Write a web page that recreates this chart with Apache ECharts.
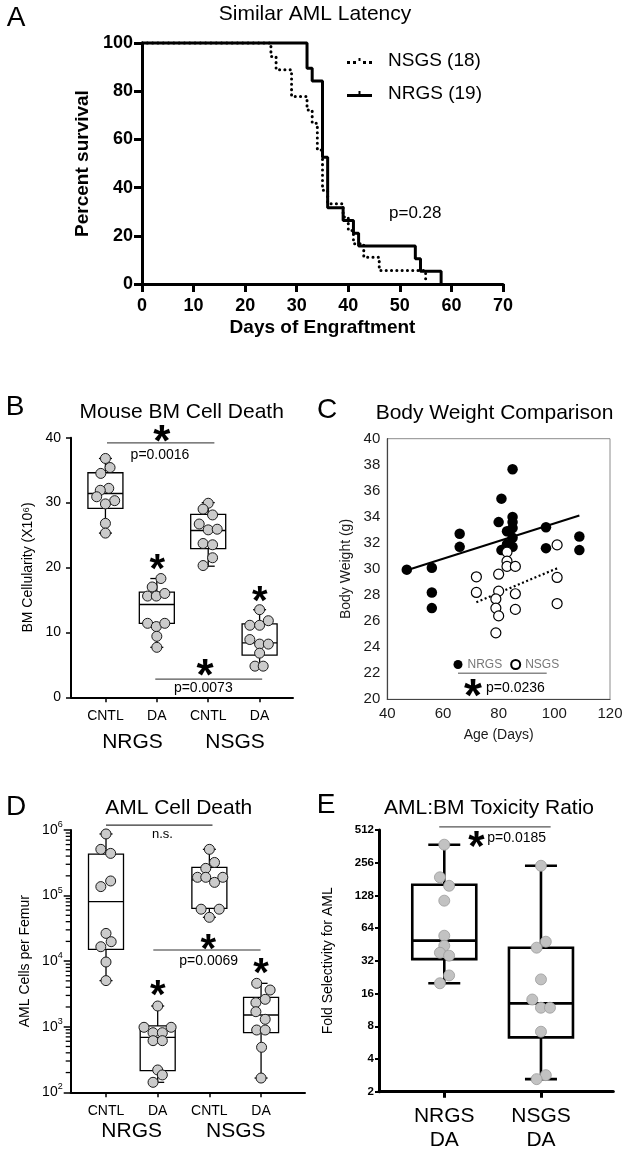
<!DOCTYPE html>
<html><head><meta charset="utf-8">
<script src="https://cdn.jsdelivr.net/npm/echarts@6/dist/echarts.min.js"></script>
<style>html,body{margin:0;padding:0;background:#fff}#c{width:625px;height:1152px}</style>
</head><body><div id="c"></div>
<script>
const FONT = '"Liberation Sans", Arial, sans-serif';

// ---------- Panel A : survival ----------
const nrgsDays = [0, 32, 33, 35, 36, 39, 41, 42, 53, 54, 58];
const nrgsSurvival = [100, 89.5, 84.2, 52.6, 31.6, 26.3, 21.1, 15.8, 10.5, 5.3, 0];
const nsgsDays = [0, 25, 26, 29, 32, 33, 34, 35, 36, 39, 40, 41, 43, 46, 55];
const nsgsSurvival = [100, 94.4, 88.9, 77.8, 72.2, 66.7, 55.6, 38.9, 33.3, 27.8, 22.2, 16.7, 11.1, 5.6, 0];

// ---------- Panel B : BM cellularity ----------
const bmGroups = ['CNTL', 'DA', 'CNTL', 'DA'];
const bmNrgsCntl = [36.8, 35.4, 34.5, 32.2, 31.9, 30.9, 30.3, 29.8, 26.8, 25.3];
const bmNrgsCntlJit = [0, 0.09, -0.09, 0.065, -0.1, -0.17, 0.18, 0, 0, 0];
const bmNrgsDa = [18.3, 17.0, 15.6, 15.6, 16.0, 11.4, 10.9, 11.4, 9.4, 7.7];
const bmNrgsDaJit = [0.08, -0.09, -0.18, -0.01, 0.155, -0.18, -0.01, 0.155, 0, 0];
const bmNsgsCntl = [29.9, 29.0, 28.1, 26.7, 25.8, 25.9, 23.7, 23.5, 21.5, 20.3];
const bmNsgsCntlJit = [0, -0.1, 0.085, -0.175, 0, 0.175, -0.1, 0.085, 0.085, -0.1];
const bmNsgsDa = [13.5, 11.1, 11.1, 11.8, 8.9, 8.2, 8.2, 6.8, 4.8, 4.8];
const bmNsgsDaJit = [0, -0.19, 0, 0.17, -0.19, 0, 0.17, 0, -0.09, 0.07];
// [min, q1, median, q3, max]
const bmBoxes = [[25.3, 29.1, 31.4, 34.6, 36.8], [7.7, 11.4, 14.3, 16.2, 18.3], [20.2, 22.9, 25.7, 28.2, 30.0], [4.8, 6.5, 8.4, 11.3, 13.5]];
const bmSigBars = [[1.03, 3.12, 39.2], [1.97, 4.05, 2.8]];

// ---------- Panel C : body weight ----------
const nrgsAge = [47, 56, 56, 56, 66, 66, 80, 81, 81, 83, 83, 85, 85, 85, 85, 85, 85, 97, 97, 109, 109];
const nrgsWeight = [29.95, 30.1, 28.2, 27.0, 32.7, 31.7, 33.6, 35.4, 31.45, 32.9, 31.9, 37.65, 34.0, 33.6, 33.15, 32.4, 31.7, 33.2, 31.6, 32.5, 31.45];
const nsgsAge = [72, 72, 80, 80, 79, 79, 80, 79, 83, 83, 83, 86, 86, 86, 101, 101, 101];
const nsgsWeight = [29.4, 28.2, 29.6, 28.3, 27.7, 27.0, 26.4, 25.1, 31.3, 30.6, 30.2, 30.2, 28.1, 26.9, 31.85, 29.35, 27.35];
const nrgsFit = [[47, 29.9], [109, 34.1]];
const nsgsFit = [[72, 27.45], [101, 30.05]];

// ---------- Panel D : AML cells per femur ----------
const amlNrgsCntl = [870000, 507000, 440000, 167000, 137000, 26500, 19800, 16600, 9700, 5050];
const amlNrgsCntlJit = [0, -0.1, 0.09, 0.09, -0.1, 0, 0.1, -0.1, 0, 0];
const amlNrgsDa = [2070, 980, 980, 811, 811, 613, 613, 219, 184, 142];
const amlNrgsDaJit = [0, -0.265, 0.26, -0.09, 0.09, -0.09, 0.09, 0, 0.09, -0.09];
const amlNsgsCntl = [507000, 320000, 260000, 190000, 190000, 159000, 190000, 62000, 62000, 46600];
const amlNsgsCntlJit = [0, 0.1, -0.07, -0.23, -0.07, 0.1, 0.26, -0.16, 0.19, 0];
const amlNsgsDa = [4590, 3630, 2620, 2330, 1695, 1298, 891, 891, 486, 165];
const amlNsgsDaJit = [-0.085, 0.175, 0.08, -0.1, -0.1, 0.08, -0.085, 0.08, 0.01, 0];
const amlBoxes = [[5050, 15100, 80700, 430000, 870000], [142, 214, 690, 1030, 2070], [46600, 64000, 173000, 270000, 507000], [165, 811, 1510, 2810, 4590]];
const amlTicks = [100, 1000, 10000, 100000, 1000000];
const amlSigBars = [[1, 3.06, 1190000], [1.915, 3.99, 14800]];

// ---------- Panel E : toxicity ratio ----------
const ratioGroups = ['NRGS\nDA', 'NSGS\nDA'];
const ratioNrgs = [375, 188, 157, 114.5, 54.5, 44.1, 38, 35.7, 23.5, 19.9];
const ratioNrgsJit = [0, -0.045, 0.05, 0, 0, 0, -0.045, 0.05, 0.05, -0.045];
const ratioNsgs = [240, 48, 42.3, 21.6, 14.1, 11.85, 11.85, 7.13, 2.84, 2.61];
const ratioNsgsJit = [0, 0.05, -0.045, 0, -0.09, 0, 0.093, 0, 0.05, -0.045];
const ratioBoxes = [[19.9, 33.2, 49.1, 160.7, 375], [2.61, 6.32, 13.0, 42.3, 240]];
const ratioTicks = [2, 4, 8, 16, 32, 64, 128, 256, 512];
const ratioSigBars = [[0.948, 2.1, 548]];

// ---------- helpers ----------
function zip(a, b) { return a.map((v, i) => [v, b[i]]); }
function jitterPts(groups) {
  const out = [];
  groups.forEach((g, gi) => g[0].forEach((v, i) => out.push([gi + 1 + g[1][i], v])));
  return out;
}
function minorLogTicks(lo, hi) {
  const t = [];
  for (let d = lo; d < hi; d *= 10) for (let k = 2; k <= 9; k++) t.push(d * k);
  return t;
}
function boxRenderer(boxW, capW, lw) {
  return function (params, api) {
    const x = api.value(0);
    const lo = api.coord([x, api.value(1)]);
    const q1 = api.coord([x, api.value(2)]);
    const md = api.coord([x, api.value(3)]);
    const q3 = api.coord([x, api.value(4)]);
    const hi = api.coord([x, api.value(5)]);
    const cx = lo[0];
    const st = { stroke: '#000', lineWidth: lw, fill: null };
    const ln = (x1, y1, x2, y2) => ({ type: 'line', shape: { x1, y1, x2, y2 }, style: st });
    return { type: 'group', children: [
      ln(cx, hi[1], cx, q3[1]),
      ln(cx, q1[1], cx, lo[1]),
      ln(cx - capW / 2, hi[1], cx + capW / 2, hi[1]),
      ln(cx - capW / 2, lo[1], cx + capW / 2, lo[1]),
      { type: 'rect', shape: { x: cx - boxW / 2, y: q3[1], width: boxW, height: q1[1] - q3[1] }, style: st },
      ln(cx - boxW / 2, md[1], cx + boxW / 2, md[1])
    ] };
  };
}
// minor log ticks drawn on the outer side of the axis, positioned by the axis scale
function minorTickRenderer(len, lw) {
  return function (params, api) {
    const p = api.coord([api.value(0), api.value(1)]);
    return { type: 'line', shape: { x1: p[0] - len, y1: p[1], x2: p[0], y2: p[1] }, style: { stroke: '#000', lineWidth: lw } };
  };
}
function sigSeries(bars, xi, yi, color, width) {
  return bars.map(b => ({
    type: 'line', xAxisIndex: xi, yAxisIndex: yi, data: [[b[0], b[2]], [b[1], b[2]]],
    symbol: 'none', clip: false, silent: true, z: 1,
    lineStyle: { color: color, width: width }
  }));
}
function txt(x, y, text, size, o) {
  o = o || {};
  const align = o.align || 'center';
  return { type: 'text', x: x, y: y, z: 100, silent: true,
    style: { text: text, font: (o.bold ? 'bold ' : '') + size + 'px ' + FONT, fill: o.color || '#000',
      align: align, textAlign: align, verticalAlign: 'middle', textVerticalAlign: 'middle' } };
}
function star(x, cy, size) { return txt(x, cy + 0.22 * size, '*', size, { bold: true }); }

const blackAxis = (w) => ({ show: true, onZero: false, lineStyle: { color: '#000', width: w } });
const tick = (len, w, custom) => Object.assign({ show: true, inside: false, length: len, lineStyle: { color: '#000', width: w } }, custom ? { customValues: custom } : {});
const noSplit = { show: false };

const gridBase = { containLabel: false, outerBoundsMode: 'none' };

// legend glyphs (GraphPad style: line with a small censor tick)
const ICON_SOLID = 'path://M0,3h25v3h-25z M11.5,0h2v3h-2z';
const ICON_DOTTED = 'path://M0,3h3v3h-3z M6,3h3v3h-3z M11.5,0h2v3h-2z M16,3h3v3h-3z M22,3h3v3h-3z';

const D_XMIN = 0.317, D_XMAX = 4.85;

const option = {
  animation: false,
  backgroundColor: '#fff',
  textStyle: { fontFamily: FONT },
  grid: [
    Object.assign({ left: 142, top: 43, width: 361, height: 241 }, gridBase),
    Object.assign({ left: 71, top: 437.7, width: 222, height: 259.6 }, gridBase),
    Object.assign({ left: 387.3, top: 438.7, width: 222.7, height: 260.6, show: true, borderColor: '#8c8c8c', borderWidth: 1 }, gridBase),
    Object.assign({ left: 70.7, top: 830, width: 234.3, height: 262.3 }, gridBase),
    Object.assign({ left: 379, top: 830, width: 234.3, height: 261.7 }, gridBase)
  ],
  legend: [
    { data: [{ name: 'NSGS (18)', icon: ICON_DOTTED }, { name: 'NRGS (19)', icon: ICON_SOLID }],
      orient: 'vertical', left: 347, top: 51, padding: 0,
      itemWidth: 25, itemHeight: 6, itemGap: 13, selectedMode: false,
      textStyle: { fontSize: 19, color: '#000', lineHeight: 20, padding: [0, 0, 0, 11] } },
    { data: ['NRGS', 'NSGS'], left: 453.5, top: 658.5, padding: 0, icon: 'circle',
      itemWidth: 9, itemHeight: 9, itemGap: 8, selectedMode: false,
      textStyle: { fontSize: 12, color: '#777' } }
  ],
  xAxis: [
    { gridIndex: 0, type: 'value', min: 0, max: 70, interval: 10, axisLine: blackAxis(3), axisTick: tick(8, 3), splitLine: noSplit,
      axisLabel: { fontSize: 18, fontWeight: 'bold', color: '#000', margin: 13 },
      name: 'Days of Engraftment', nameLocation: 'middle', nameGap: 34, nameTextStyle: { fontSize: 19, fontWeight: 'bold', color: '#000' } },
    { gridIndex: 1, type: 'value', min: 0.33, max: 4.65, axisLine: blackAxis(2), axisTick: tick(5, 1.5, [1, 2, 3, 4]), splitLine: noSplit,
      axisLabel: { customValues: [1, 2, 3, 4], formatter: v => bmGroups[Math.round(v) - 1], fontSize: 14, color: '#000', margin: 12 } },
    { gridIndex: 2, type: 'value', min: 40, max: 120, interval: 20, axisLine: { show: true, onZero: false, lineStyle: { color: '#444', width: 1.2 } }, axisTick: { show: false }, splitLine: noSplit,
      axisLabel: { fontSize: 15, color: '#1a1a1a', margin: 7 },
      name: 'Age (Days)', nameLocation: 'middle', nameGap: 29, nameTextStyle: { fontSize: 14, color: '#1a1a1a' } },
    { gridIndex: 3, type: 'value', min: D_XMIN, max: D_XMAX, axisLine: blackAxis(2), axisTick: tick(5, 1.5, [1, 2, 3, 4]), splitLine: noSplit,
      axisLabel: { customValues: [1, 2, 3, 4], formatter: v => bmGroups[Math.round(v) - 1], fontSize: 14, color: '#000', margin: 12 } },
    { gridIndex: 4, type: 'value', min: 0.325, max: 2.748, axisLine: blackAxis(3), axisTick: tick(6, 3, [1, 2]), splitLine: noSplit,
      axisLabel: { customValues: [1, 2], formatter: v => ratioGroups[Math.round(v) - 1], fontSize: 21, lineHeight: 23.5, color: '#000', margin: 13 } }
  ],
  yAxis: [
    { gridIndex: 0, type: 'value', min: 0, max: 100, interval: 20, axisLine: blackAxis(3), axisTick: tick(8, 3), splitLine: noSplit,
      axisLabel: { fontSize: 18, fontWeight: 'bold', color: '#000', margin: 9 },
      name: 'Percent survival', nameLocation: 'middle', nameGap: 50, nameTextStyle: { fontSize: 19, fontWeight: 'bold', color: '#000' } },
    { gridIndex: 1, type: 'value', min: 0, max: 40, interval: 10, axisLine: blackAxis(2), axisTick: tick(5, 1.5), splitLine: noSplit,
      axisLabel: { fontSize: 14, color: '#000', margin: 10 },
      name: 'BM Cellularity (X10\u2076)', nameLocation: 'middle', nameGap: 36, nameTextStyle: { fontSize: 14, color: '#000' } },
    { gridIndex: 2, type: 'value', min: 20, max: 40, interval: 2, axisLine: { show: true, onZero: false, lineStyle: { color: '#444', width: 1.2 } }, axisTick: { show: false }, splitLine: noSplit,
      axisLabel: { fontSize: 15, color: '#1a1a1a', margin: 7 },
      name: 'Body Weight (g)', nameLocation: 'middle', nameGap: 34, nameTextStyle: { fontSize: 14, color: '#1a1a1a' } },
    { gridIndex: 3, type: 'log', logBase: 10, min: 100, max: 1000000, position: 'left', axisLine: blackAxis(2), axisTick: tick(7, 1.5, amlTicks), splitLine: noSplit,
      axisLabel: { customValues: amlTicks, margin: 8,
        formatter: v => '{b|10}{s|' + Math.round(Math.log10(v)) + '}',
        rich: { b: { fontSize: 14, color: '#000', lineHeight: 20, fontFamily: FONT }, s: { fontSize: 9, color: '#000', lineHeight: 12, verticalAlign: 'top', fontFamily: FONT } } },
      name: 'AML Cells per Femur', nameLocation: 'middle', nameGap: 39, nameTextStyle: { fontSize: 14, color: '#000' } },
    { gridIndex: 4, type: 'log', logBase: 2, min: 2, max: 512, axisLine: blackAxis(3), axisTick: tick(4, 2, ratioTicks), splitLine: noSplit,
      axisLabel: { customValues: ratioTicks, fontSize: 11.5, fontWeight: 'bold', color: '#000', margin: 5 },
      name: 'Fold Selectivity for AML', nameLocation: 'middle', nameGap: 44, nameTextStyle: { fontSize: 14, color: '#000' } }
  ],
  series: [
    // A
    { type: 'line', name: 'NSGS (18)', xAxisIndex: 0, yAxisIndex: 0, data: zip(nsgsDays, nsgsSurvival), step: 'end', symbol: 'none', clip: false,
      color: '#000', itemStyle: { color: '#000' },
      lineStyle: { color: '#000', width: 3, type: [0.1, 5.2], cap: 'round' } },
    { type: 'line', name: 'NRGS (19)', xAxisIndex: 0, yAxisIndex: 0, data: zip(nrgsDays, nrgsSurvival), step: 'end', symbol: 'none', clip: false,
      color: '#000', itemStyle: { color: '#000' },
      lineStyle: { color: '#000', width: 3 } },
    // B
    { type: 'custom', name: 'bm-box', xAxisIndex: 1, yAxisIndex: 1, data: bmBoxes.map((s, i) => [i + 1].concat(s)),
      encode: { x: 0, y: [1, 2, 3, 4, 5] }, renderItem: boxRenderer(35, 13, 1.3), z: 2, silent: true },
    { type: 'scatter', name: 'bm-pts', xAxisIndex: 1, yAxisIndex: 1, z: 3, symbolSize: 10, silent: true,
      data: jitterPts([[bmNrgsCntl, bmNrgsCntlJit], [bmNrgsDa, bmNrgsDaJit], [bmNsgsCntl, bmNsgsCntlJit], [bmNsgsDa, bmNsgsDaJit]]),
      itemStyle: { color: '#cbcbcb', borderColor: '#1a1a1a', borderWidth: 1, opacity: 1 } },
    ...sigSeries(bmSigBars, 1, 1, '#555', 1.3),
    // C
    { type: 'scatter', name: 'NRGS', xAxisIndex: 2, yAxisIndex: 2, data: zip(nrgsAge, nrgsWeight), symbolSize: 10.5, z: 3,
      itemStyle: { color: '#000', opacity: 1 } },
    { type: 'scatter', name: 'NSGS', xAxisIndex: 2, yAxisIndex: 2, data: zip(nsgsAge, nsgsWeight), symbolSize: 10, z: 3,
      itemStyle: { color: '#fff', borderColor: '#000', borderWidth: 1.2, opacity: 1 } },
    { type: 'line', name: 'nrgs-fit', xAxisIndex: 2, yAxisIndex: 2, data: nrgsFit, symbol: 'none', z: 2, lineStyle: { color: '#000', width: 2 } },
    { type: 'line', name: 'nsgs-fit', xAxisIndex: 2, yAxisIndex: 2, data: nsgsFit, symbol: 'none', z: 2, lineStyle: { color: '#000', width: 2.2, type: [2, 2.5] } },
    // D
    { type: 'custom', name: 'aml-minor-ticks', xAxisIndex: 3, yAxisIndex: 3, clip: false, silent: true, z: 5,
      data: minorLogTicks(100, 1000000).map(v => [D_XMIN, v]), encode: { x: 0, y: 1 }, renderItem: minorTickRenderer(5, 1.3) },
    { type: 'custom', name: 'aml-box', xAxisIndex: 3, yAxisIndex: 3, data: amlBoxes.map((s, i) => [i + 1].concat(s)),
      encode: { x: 0, y: [1, 2, 3, 4, 5] }, renderItem: boxRenderer(35, 13, 1.3), z: 2, silent: true },
    { type: 'scatter', name: 'aml-pts', xAxisIndex: 3, yAxisIndex: 3, z: 3, symbolSize: 10, silent: true,
      data: jitterPts([[amlNrgsCntl, amlNrgsCntlJit], [amlNrgsDa, amlNrgsDaJit], [amlNsgsCntl, amlNsgsCntlJit], [amlNsgsDa, amlNsgsDaJit]]),
      itemStyle: { color: '#cbcbcb', borderColor: '#1a1a1a', borderWidth: 1, opacity: 1 } },
    ...sigSeries(amlSigBars, 3, 3, '#333', 1.2),
    // E
    { type: 'custom', name: 'ratio-box', xAxisIndex: 4, yAxisIndex: 4, data: ratioBoxes.map((s, i) => [i + 1].concat(s)),
      encode: { x: 0, y: [1, 2, 3, 4, 5] }, renderItem: boxRenderer(64, 32, 2.6), z: 2, silent: true },
    { type: 'scatter', name: 'ratio-pts', xAxisIndex: 4, yAxisIndex: 4, z: 3, symbolSize: 11, silent: true,
      data: jitterPts([[ratioNrgs, ratioNrgsJit], [ratioNsgs, ratioNsgsJit]]),
      itemStyle: { color: '#c2c2c2', borderColor: '#9a9a9a', borderWidth: 0.8, opacity: 1 } },
    ...sigSeries(ratioSigBars, 4, 4, '#555', 1.2)
  ],
  graphic: [
    // panel letters
    txt(16, 18, 'A', 28), txt(15, 407, 'B', 28), txt(327, 410, 'C', 28), txt(16, 807, 'D', 28), txt(326, 805, 'E', 28),
    // titles
    txt(315, 14, 'Similar AML Latency', 21),
    txt(181.7, 412, 'Mouse BM Cell Death', 21),
    txt(494.5, 413, 'Body Weight Comparison', 21),
    txt(178.7, 808, 'AML Cell Death', 21),
    txt(489, 808, 'AML:BM Toxicity Ratio', 21),
    // A annotation
    txt(389, 213, 'p=0.28', 17, { align: 'left' }),
    // B annotations
    star(161.7, 434, 44), txt(160, 455, 'p=0.0016', 14),
    star(205, 668, 44), txt(203.3, 688, 'p=0.0073', 14),
    star(157.3, 562.5, 40), star(259.7, 594, 40),
    txt(132.5, 742, 'NRGS', 21), txt(235, 742, 'NSGS', 21),
    // C annotations
    { type: 'line', silent: true, shape: { x1: 458, y1: 673.3, x2: 546.7, y2: 673.3 }, style: { stroke: '#888', lineWidth: 1.5 } },
    star(473, 688, 46), txt(486, 688, 'p=0.0236', 14, { align: 'left' }),
    // D annotations
    txt(162.5, 834, 'n.s.', 13),
    star(208.3, 942.5, 40), txt(208.7, 961, 'p=0.0069', 14),
    star(157.7, 988, 40), star(261, 966.5, 40),
    txt(131.7, 1131.5, 'NRGS', 21), txt(235.8, 1131.5, 'NSGS', 21),
    // E annotations
    star(476.3, 839, 42), txt(487.3, 838.5, 'p=0.0185', 14, { align: 'left' })
  ]
};

const chart = echarts.init(document.getElementById('c'), null, { renderer: 'canvas', width: 625, height: 1152 });
chart.setOption(option);
</script>
</body></html>
